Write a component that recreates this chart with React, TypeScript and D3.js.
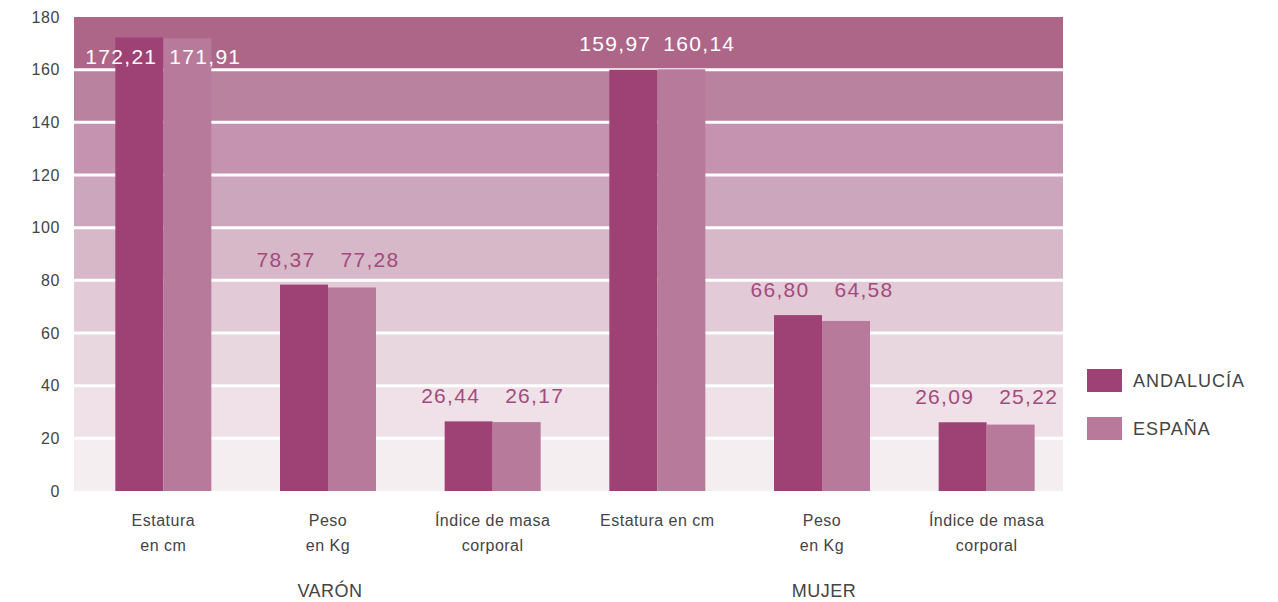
import * as React from 'react';
import {scaleBand, scaleLinear} from 'd3';

const categories = ['v-est', 'v-peso', 'v-imc', 'm-est', 'm-peso', 'm-imc'];
const categoryLines = [
    ['Estatura', 'en cm'],
    ['Peso', 'en Kg'],
    ['Índice de masa', 'corporal'],
    ['Estatura en cm'],
    ['Peso', 'en Kg'],
    ['Índice de masa', 'corporal'],
];
const andalucia = [172.21, 78.37, 26.44, 159.97, 66.80, 26.09];
const espana = [171.91, 77.28, 26.17, 160.14, 64.58, 25.22];
const series = ['ANDALUCÍA', 'ESPAÑA'];
const groups = [
    {label: 'VARÓN', cats: ['v-est', 'v-peso', 'v-imc']},
    {label: 'MUJER', cats: ['m-est', 'm-peso', 'm-imc']},
];
const yTicks = [0, 20, 40, 60, 80, 100, 120, 140, 160, 180];
const bandColors = ['#f5eef1', '#efe1e7', '#e8d7df', '#e2cad6', '#d6b8c9', '#cca6bd', '#c593af', '#b9829f', '#ad6688'];
const seriesColors = ['#9e4174', '#b87a9b'];

const width = 1278;
const height = 602;
const plotLeft = 74;
const plotRight = 1063;
const font = '"Liberation Sans", Arial, sans-serif';
const fmt = (v: number) => v.toFixed(2).replace('.', ',');

const yScale = scaleLinear().domain([0, 180]).range([491, 17]);
const xScale = scaleBand()
    .domain(categories)
    .range([81, 1069])
    .paddingInner(0.417)
    .paddingOuter(0.2085);
const xSub = scaleBand().domain(series).range([0, xScale.bandwidth()]);

export default function App() {
    const bands = bandColors.map((c, i) => (
        <rect key={'b' + i} x={plotLeft} width={plotRight - plotLeft}
              y={yScale(yTicks[i + 1])} height={yScale(yTicks[i]) - yScale(yTicks[i + 1])} fill={c}/>
    ));
    const grid = yTicks.slice(1, -1).map(t => (
        <line key={'g' + t} x1={plotLeft} x2={plotRight} y1={yScale(t)} y2={yScale(t)} stroke="#fff" strokeWidth={3}/>
    ));
    const ticks = yTicks.map(t => (
        <text key={'t' + t} x={60} y={yScale(t)} dy="0.35em" textAnchor="end" fontSize={16} letterSpacing={0.6} fill="#444">{t}</text>
    ));

    const bars = categories.map((c, i) => {
        const x0 = xScale(c) as number;
        const vals = [andalucia[i], espana[i]];
        return vals.map((v, j) => (
            <rect key={c + j} x={x0 + (xSub(series[j]) as number)} width={xSub.bandwidth()}
                  y={yScale(v)} height={yScale(0) - yScale(v)} fill={seriesColors[j]}/>
        ));
    });

    const valueLabels = categories.map((c, i) => {
        const cx = (xScale(c) as number) + xScale.bandwidth() / 2;
        const top = yScale(Math.max(andalucia[i], espana[i]));
        const y = top - 18 < 40 ? top + 26 : top - 18;
        const fill = y < yScale(160) ? '#fff' : '#a34a7e';
        return [andalucia[i], espana[i]].map((v, j) => (
            <text key={'v' + c + j} x={cx + (j === 0 ? -42 : 42)} y={y} textAnchor="middle"
                  fontSize={21} letterSpacing={1.3} fill={fill}>{fmt(v)}</text>
        ));
    });

    const catLabels = categories.map((c, i) => {
        const cx = (xScale(c) as number) + xScale.bandwidth() / 2;
        return categoryLines[i].map((line, k) => (
            <text key={'c' + c + k} x={cx} y={526 + k * 24.5} textAnchor="middle" fontSize={16} letterSpacing={0.5} fill="#444">{line}</text>
        ));
    });

    const groupLabels = groups.map(g => {
        const a = (xScale(g.cats[0]) as number);
        const b = (xScale(g.cats[g.cats.length - 1]) as number) + xScale.bandwidth();
        return (
            <text key={g.label} x={(a + b) / 2 + 2} y={597} textAnchor="middle" fontSize={18} letterSpacing={0.5} fill="#444">{g.label}</text>
        );
    });

    const legend = series.map((s, j) => (
        <g key={s} transform={`translate(1087, ${369 + j * 48})`}>
            <rect width={35} height={23} fill={seriesColors[j]}/>
            <text x={46} y={18} fontSize={18} letterSpacing={1} fill="#444">{s}</text>
        </g>
    ));

    return (
        <svg width={width} height={height} style={{position: 'absolute', left: 0, top: 0}} fontFamily={font}>
            <rect width={width} height={height} fill="#fff"/>
            {bands}
            {grid}
            {ticks}
            {bars}
            {valueLabels}
            {catLabels}
            {groupLabels}
            {legend}
        </svg>
    );
}
